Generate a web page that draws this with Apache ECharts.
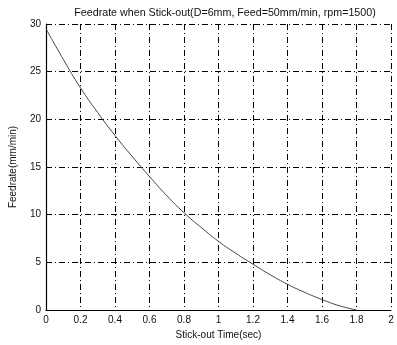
<!DOCTYPE html>
<html>
<head>
<meta charset="utf-8">
<script src="https://cdn.jsdelivr.net/npm/echarts@6/dist/echarts.min.js"></script>
<style>html,body{margin:0;padding:0;background:#fff}#c{width:397px;height:345px}</style>
</head>
<body>
<div id="c"></div>
<script>
const titleText = 'Feedrate when Stick-out(D=6mm, Feed=50mm/min, rpm=1500)';
const xName = 'Stick-out Time(sec)';
const yName = 'Feedrate(mm/min)';
const times = [0, 0.1, 0.2, 0.3, 0.4, 0.5, 0.6, 0.7, 0.8, 0.9, 1.0, 1.1, 1.2, 1.3, 1.4, 1.5, 1.6, 1.7, 1.8];
const feedrate = [29.5, 26.3, 23.3, 20.7, 18.3, 16.1, 14.0, 12.0, 10.2, 8.65, 7.2, 5.95, 4.8, 3.7, 2.7, 1.85, 1.1, 0.45, 0.0];

const chart = echarts.init(document.getElementById('c'), null, {renderer: 'canvas'});
const dashDot = [6, 3, 1, 3];
chart.setOption({
  animation: false,
  backgroundColor: '#fff',
  title: {
    text: titleText, left: 220, top: 3, textAlign: 'center',
    textStyle: {fontFamily: 'Liberation Sans', fontSize: 10.7, fontWeight: 'normal', color: '#111'}
  },
  grid: {left: 46, right: 6, top: 24, bottom: 35},
  xAxis: {
    type: 'value', min: 0, max: 2, interval: 0.2,
    name: xName, nameLocation: 'middle', nameGap: 20,
    nameTextStyle: {fontFamily: 'Liberation Sans', fontSize: 10, color: '#111'},
    axisLine: {show: true, onZero: false, lineStyle: {color: '#000', width: 1.2}},
    axisTick: {show: false},
    axisLabel: {fontFamily: 'Liberation Sans', fontSize: 10, color: '#111', margin: 5,
      formatter: v => String(Math.round(v * 10) / 10)},
    splitLine: {show: true, lineStyle: {color: '#000', width: 1, type: dashDot}}
  },
  yAxis: {
    type: 'value', min: 0, max: 30, interval: 5,
    name: yName, nameLocation: 'middle', nameGap: 28,
    nameTextStyle: {fontFamily: 'Liberation Sans', fontSize: 10, color: '#111'},
    axisLine: {show: true, lineStyle: {color: '#000', width: 1.2}},
    axisTick: {show: false},
    axisLabel: {fontFamily: 'Liberation Sans', fontSize: 10, color: '#111', margin: 5},
    splitLine: {show: true, lineStyle: {color: '#000', width: 1, type: dashDot}}
  },
  series: [{
    type: 'line', smooth: true, symbol: 'none',
    data: times.map((t, i) => [t, feedrate[i]]),
    lineStyle: {color: '#444', width: 1}
  }]
});
</script>
</body>
</html>
